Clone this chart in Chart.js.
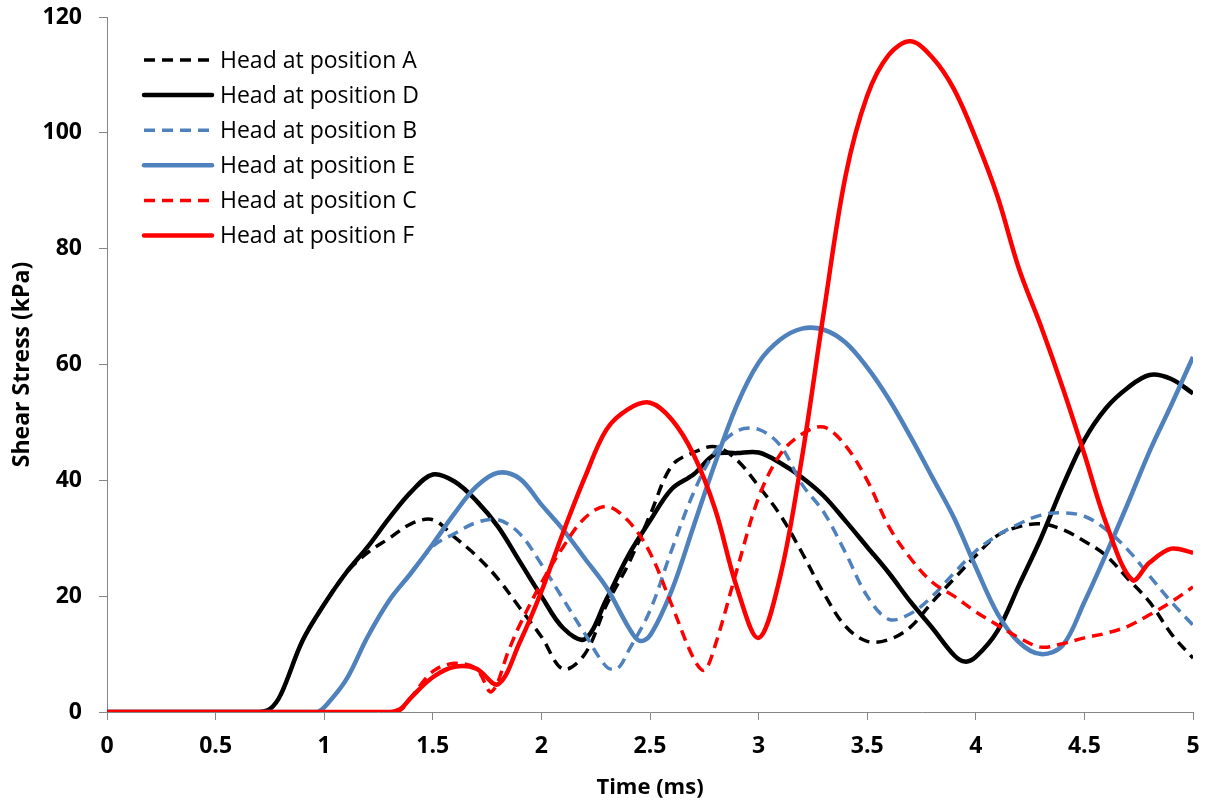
<!DOCTYPE html>
<html><head><meta charset="utf-8">
<script src="https://cdn.jsdelivr.net/npm/chart.js@4"></script>
<style>html,body{margin:0;padding:0;background:#fff;}#wrap{width:1209px;height:801px;}</style>
</head><body><div id="wrap"><canvas id="c" width="1209" height="801"></canvas></div>
<script>
const labels = ["Head at position A","Head at position D","Head at position B","Head at position E","Head at position C","Head at position F"];
const xTicks = [0,0.5,1,1.5,2,2.5,3,3.5,4,4.5,5];
const yTicks = [0,20,40,60,80,100,120];

const tA = [0,0.6,0.7,0.75,0.8,0.9,1.0,1.1,1.2,1.3,1.4,1.5,1.6,1.7,1.8,1.9,2.0,2.1,2.2,2.3,2.4,2.5,2.6,2.7,2.8,2.9,3.0,3.1,3.2,3.3,3.4,3.5,3.6,3.7,3.8,3.9,4.0,4.1,4.2,4.3,4.4,4.5,4.6,4.7,4.8,4.9,5.0];
const vA = [0,0,0,0.5,3,12.3,18.6,24,27.5,30,32.5,33.2,30.2,27,23,18,13,7.4,10,18.5,25.5,34,42.5,44.8,45.8,43.5,39,34,27.5,20.5,14.8,12.2,12.5,14.7,19,23,27,30.5,32,32.5,31.5,29.5,27,23,19,13.5,9.3];

const tD = [0,0.6,0.7,0.75,0.8,0.9,1.0,1.1,1.2,1.3,1.4,1.5,1.6,1.7,1.8,1.9,2.0,2.1,2.2,2.3,2.4,2.5,2.6,2.7,2.8,2.9,3.0,3.1,3.2,3.3,3.4,3.5,3.6,3.7,3.8,3.9,3.95,4.0,4.1,4.2,4.3,4.4,4.5,4.6,4.7,4.8,4.9,5.0];
const vD = [0,0,0,0.5,3,12.3,18.6,24,28.5,33.5,38,41,39.8,36.5,32,26,20,14.5,12.6,19.5,27,33,38.5,41,44.5,44.7,44.8,43,40.5,37.3,33,28.5,24,19,14.5,9.8,8.7,9.5,14,22,30,39,47,52.5,56,58.2,57.5,55];

const tB = [0,0.9,0.97,1.0,1.1,1.2,1.3,1.4,1.5,1.6,1.7,1.8,1.9,2.0,2.1,2.2,2.3,2.35,2.4,2.5,2.6,2.7,2.8,2.9,3.0,3.1,3.2,3.3,3.4,3.5,3.6,3.7,3.8,3.9,4.0,4.1,4.2,4.3,4.4,4.5,4.6,4.7,4.8,4.9,5.0];
const vB = [0,0,0,0.8,5.5,13,19.3,24,28.6,30.8,32.7,33.2,30.8,25.5,19.5,13.5,7.8,7.5,10.5,17.5,28,37.8,45,48.5,48.8,46,39.3,34.5,27.5,20,16,17,20,24,27.8,30.5,32.5,34,34.4,33.8,31.5,28,23.5,19,15];

const tE = [0,0.9,0.97,1.0,1.1,1.2,1.3,1.4,1.5,1.6,1.7,1.8,1.9,2.0,2.1,2.2,2.3,2.4,2.45,2.5,2.6,2.7,2.8,2.9,3.0,3.1,3.2,3.3,3.4,3.5,3.6,3.7,3.8,3.9,4.0,4.1,4.2,4.3,4.4,4.5,4.6,4.7,4.8,4.9,5.0];
const vE = [0,0,0,0.8,5.5,13,19.3,24,29,34.3,38.9,41.3,40.3,35.8,31.5,26.5,21.5,14.7,12.3,13.2,21,32,43,53,60.3,64.3,66.2,66,63.8,59.5,54,47.5,40.5,33.5,25,17,12,10,11.5,19,27.3,36,45,53,61.3];

const tC = [0,1.2,1.3,1.35,1.4,1.5,1.6,1.7,1.77,1.85,1.9,2.0,2.1,2.2,2.3,2.4,2.5,2.6,2.7,2.75,2.8,2.9,3.0,3.1,3.2,3.3,3.4,3.5,3.6,3.7,3.8,3.9,4.0,4.1,4.2,4.3,4.4,4.5,4.6,4.7,4.8,4.9,5.0];
const vC = [0,0,0,0.3,2.5,7,8.4,7.5,3.5,10.7,15,22.3,28.5,33.5,35.5,33,27.5,18.5,9.3,7.2,11.5,24.5,37,44.5,48,49.2,46,40,32,26.5,22.4,20,17.3,15,12.8,11.2,11.8,12.8,13.6,14.8,16.8,19,21.6];

const tF = [0,1.2,1.3,1.35,1.4,1.5,1.6,1.7,1.8,1.9,2.0,2.1,2.2,2.3,2.4,2.5,2.6,2.7,2.8,2.9,3.0,3.1,3.2,3.3,3.4,3.5,3.6,3.7,3.8,3.9,4.0,4.1,4.2,4.3,4.4,4.5,4.6,4.72,4.8,4.9,5.0];
const vF = [0,0,0,0.5,2.5,6,7.8,7.5,4.8,12,20.8,31,40.5,48.8,52.3,53.4,50.5,44.5,35,21.5,12.8,23.5,44,69,92.5,106.4,113.5,115.8,113,107.5,99,89,76.4,66.6,56,44.5,32.6,22.8,25.8,28.2,27.5];

const BLACK = '#000000', BLUE = '#4F81BD', RED = '#FF0000';
const FONT = "'Open Sans', Lato, sans-serif";
function pts(t, v){ return t.map((x,i)=>({x:x, y:v[i]})); }
function ds(i, t, v, color, dashed, order){
  return {label: labels[i], data: pts(t,v), borderColor: color, backgroundColor: color,
    borderWidth: dashed ? 3.5 : 4.5, borderDash: dashed ? [11,7] : [], pointRadius: 0,
    tension: 0.35, fill: false, order: order, borderCapStyle: 'butt'};
}

const legendPlugin = {
  id: 'insideLegend',
  afterDraw(chart){
    const ctx = chart.ctx;
    ctx.save();
    chart.data.datasets.forEach((d, i) => {
      const y = 60 + i * 35.1;
      ctx.beginPath();
      ctx.strokeStyle = d.borderColor;
      ctx.lineWidth = d.borderWidth;
      ctx.setLineDash(d.borderDash);
      ctx.lineCap = d.borderDash.length ? 'butt' : 'round';
      ctx.moveTo(144, y); ctx.lineTo(212, y);
      ctx.stroke();
      ctx.setLineDash([]);
      ctx.fillStyle = '#000';
      ctx.font = "23px " + FONT;
      ctx.textBaseline = 'middle';
      ctx.textAlign = 'left';
      ctx.fillText(d.label, 220, y + 1);
    });
    ctx.restore();
  }
};

function noPad(s){ s.paddingTop = 0; s.paddingBottom = 0; s.paddingLeft = 0; s.paddingRight = 0; }

new Chart(document.getElementById('c'), {
  type: 'line',
  data: { datasets: [
    ds(0, tA, vA, BLACK, true, 6),
    ds(1, tD, vD, BLACK, false, 5),
    ds(2, tB, vB, BLUE, true, 4),
    ds(3, tE, vE, BLUE, false, 3),
    ds(4, tC, vC, RED, true, 2),
    ds(5, tF, vF, RED, false, 1)
  ]},
  options: {
    responsive: false, animation: false, devicePixelRatio: 1,
    layout: { padding: { left: 0, right: 16, top: 17, bottom: 0 } },
    plugins: { legend: { display: false }, tooltip: { enabled: false } },
    scales: {
      x: {
        type: 'linear', min: 0, max: 5,
        afterBuildTicks: (s) => { s.ticks = xTicks.map(v => ({value: v})); },
        afterFit: (s) => { s.height = 89; noPad(s); },
        grid: { drawOnChartArea: false, color: '#868686', tickLength: 8 },
        border: { color: '#868686', width: 1 },
        ticks: { color: '#000', padding: 13, font: { family: FONT, size: 23, weight: 'bold' }, maxRotation: 0,
                 callback: (v) => String(v) },
        title: { display: true, text: 'Time (ms)', color: '#000', font: { family: FONT, size: 22, weight: 'bold' }, padding: { top: 8, bottom: 0 } }
      },
      y: {
        type: 'linear', min: 0, max: 120,
        afterBuildTicks: (s) => { s.ticks = yTicks.map(v => ({value: v})); },
        afterFit: (s) => { s.width = 107; noPad(s); },
        grid: { drawOnChartArea: false, color: '#868686', tickLength: 8 },
        border: { color: '#868686', width: 1 },
        ticks: { color: '#000', padding: 17, font: { family: FONT, size: 23, weight: 'bold' } },
        title: { display: true, text: 'Shear Stress (kPa)', color: '#000', font: { family: FONT, size: 23, weight: 'bold' }, padding: { top: 9, bottom: 0 } }
      }
    }
  },
  plugins: [legendPlugin]
});
</script></body></html>
